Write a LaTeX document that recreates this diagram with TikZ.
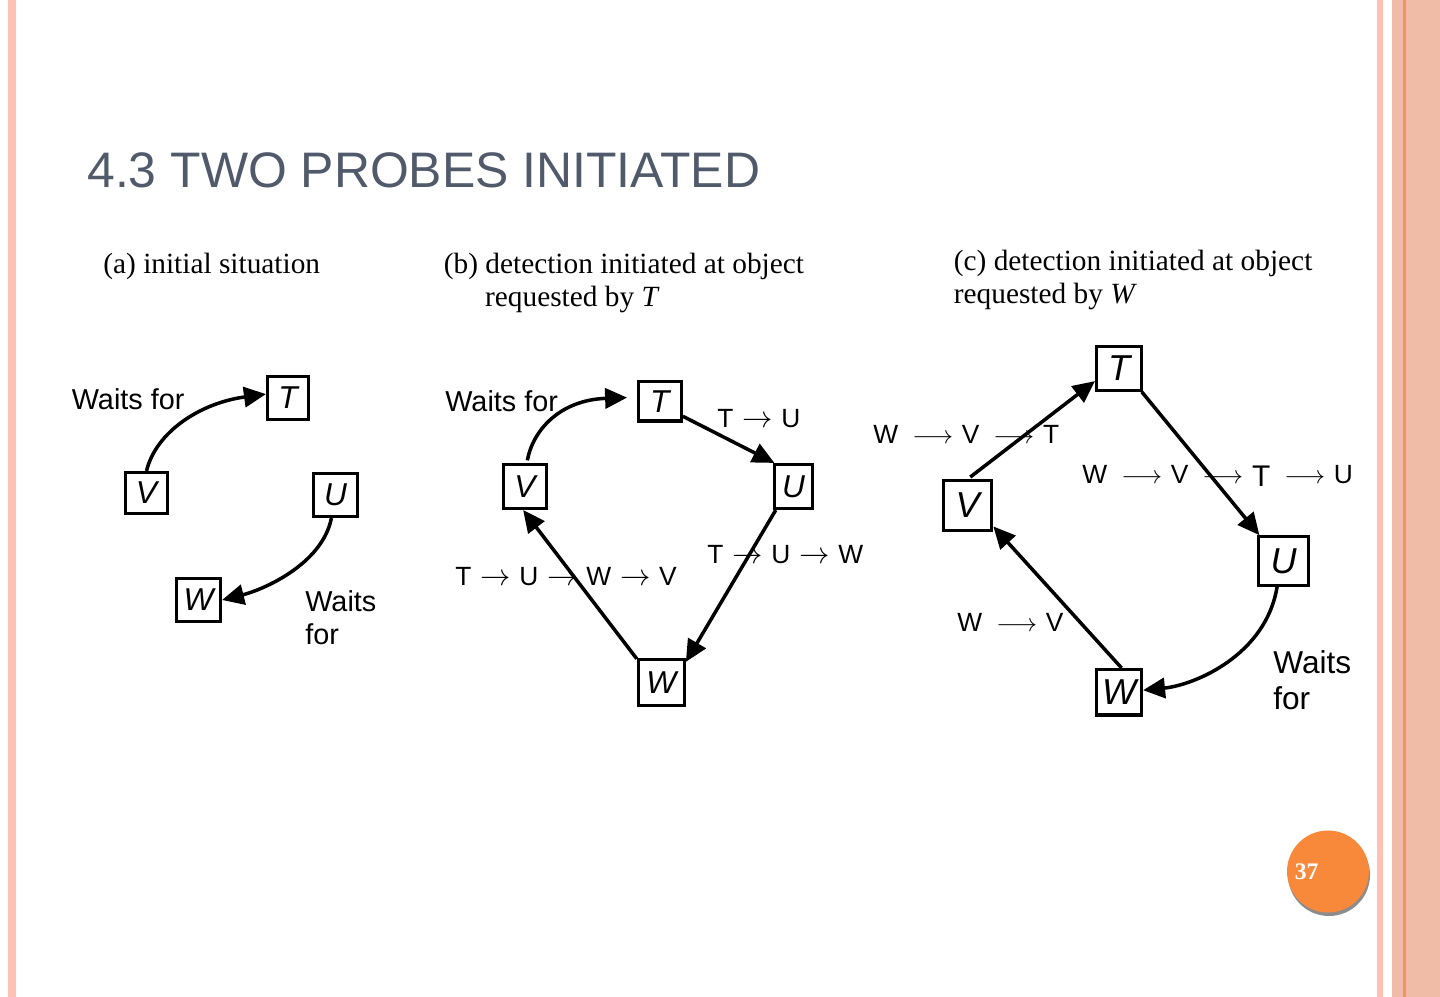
\documentclass[tikz,border=0pt]{standalone}
\usepackage{fontspec}
\setmainfont{Liberation Serif}
\setsansfont{Liberation Sans}
\usepackage{tikz}
\usetikzlibrary{arrows.meta,positioning,calc}
\definecolor{Blush}{HTML}{FFC2B2}
\definecolor{Salmon}{HTML}{F1BCA7}
\definecolor{Ember}{HTML}{EE9663}
\definecolor{Slate}{HTML}{515A6B}
\definecolor{Tangerine}{HTML}{F8893B}
\newcommand{\probeto}{\hspace{5pt}{\fontsize{19}{19}\selectfont$\rightarrow$}\hspace{5pt}}
\newcommand{\longprobeto}{\hspace{8pt}{\fontsize{15.5}{15.5}\selectfont$\longrightarrow$}\hspace{5pt}}
\tikzset{
    % object boxes
    objbox/.style={
        rectangle,
        draw=black,
        fill=white,
        line width=1.8pt,
        minimum width=0.84cm,
        minimum height=0.84cm,
        inner sep=0pt,
        font=\sffamily\itshape\fontsize{18}{18}\selectfont
    },
    bigobjbox/.style={
        objbox,
        font=\sffamily\itshape\fontsize{20.5}{20.5}\selectfont
    },
    waitarrow/.style={
        -{Triangle[length=12.5pt,width=11.5pt]},
        line width=2pt
    },
    probelabel/.style={
        anchor=west,
        inner sep=0pt,
        font=\sffamily\fontsize{15}{17}\selectfont
    },
    waitlabel/.style={
        inner sep=0pt,
        align=left,
        font=\sffamily\fontsize{16.4}{18.9}\selectfont
    },
    panelcap/.style={
        inner sep=0pt,
        align=left,
        anchor=north west,
        font=\fontsize{16.7}{19}\selectfont
    }
}
\begin{document}
\begin{tikzpicture}[x=0.02cm, y=-0.02cm]
    \useasboundingbox (0,0) rectangle (1440,997);
    \fill[white] (0,0) rectangle (1440,997);
    % page frame
    \fill[Blush] (8,0) rectangle (16,997);
    \fill[Blush] (1377,0) rectangle (1383,997);
    \fill[Salmon] (1392,0) rectangle (1440,997);
    \fill[Ember] (1403,0) rectangle (1405.5,997);

    \node[anchor=base west, inner sep=0pt, text=Slate,
          font=\sffamily\fontsize{28.4}{30}\selectfont] (title) at (87,187.5) {4.3 TWO PROBES INITIATED};

    \node[panelcap, anchor=base west] (capA) at (103,273) {(a) initial situation};
    \node[panelcap] (capB) at (443.5,252.9) {(b) detection initiated at object\\\hspace*{23.5pt}requested by \textit{T}};
    \node[panelcap] (capC) at (953.5,249.8) {(c) detection initiated at object\\requested by \textit{W}};

    % (a) initial situation
    \node[objbox, minimum width=0.82cm, minimum height=0.86cm] (aT) at (288,398) {T};
    \node[objbox, minimum width=0.84cm, minimum height=0.82cm] (aV) at (146.5,493) {V};
    \node[objbox, minimum width=0.88cm, minimum height=0.86cm] (aU) at (335.5,495) {U};
    \node[objbox, minimum width=0.88cm, minimum height=0.86cm] (aW) at (198.5,600) {W};
    \node[waitlabel, anchor=west] (waitA) at (71.5,399) {Waits for};
    \node[waitlabel, anchor=north west] (waitA2) at (305,590) {Waits\\for};
    \draw[waitarrow] (aV.north) .. controls (156,432) and (200,403) .. (aT.170);
    \draw[waitarrow] (aU.-100) .. controls (322,565) and (262,590) .. (aW.east);

    % (b) probe from T
    \node[objbox, minimum width=0.86cm, minimum height=0.79cm] (bT) at (659.8,401.3) {T};
    \node[objbox, minimum width=0.86cm, minimum height=0.88cm] (bV) at (524.8,486.5) {V};
    \node[objbox, minimum width=0.76cm, minimum height=0.88cm] (bU) at (793.5,486.5) {U};
    \node[objbox, minimum width=0.92cm, minimum height=0.92cm] (bW) at (661.3,682.5) {W};
    \node[waitlabel, anchor=west] (waitB) at (445,401) {Waits for};
    \draw[waitarrow, shorten <=1.5pt, shorten >=5.5pt] (bV.85) .. controls (533,430) and (560,400) .. (bT.170);
    \draw[waitarrow] (bT.-33) -- (bU.129);
    \draw[waitarrow] (bU.233) -- (bW.40);
    \draw[waitarrow] (bW.136) -- (bV.266);
    \node[probelabel] (pbTU) at (717,419) {T\probeto U};
    \node[probelabel] (pbTUW) at (707,554.5) {T\probeto U\probeto W};
    \node[probelabel] (pbTUWV) at (455,576.7) {T\probeto U\probeto W\probeto V};

    % (c) probe from W
    \node[bigobjbox, minimum width=0.9cm, minimum height=0.88cm] (cT) at (1119,368.3) {T};
    \node[bigobjbox, minimum width=0.97cm, minimum height=0.99cm] (cV) at (967.5,505.5) {V};
    \node[bigobjbox, minimum width=1.0cm, minimum height=0.97cm] (cU) at (1283.5,561) {U};
    \node[bigobjbox, minimum width=0.9cm, minimum height=0.91cm] (cW) at (1119,692.3) {W};
    \node[waitlabel, anchor=north west, font=\sffamily\fontsize{18}{20.8}\selectfont] (waitC) at (1273,650) {Waits\\for};
    \draw[waitarrow, shorten <=2pt] (cV.north) -- (cT.208);
    \draw[waitarrow] (cT.-46) -- (cU.133);
    \draw[waitarrow] (cW.84) -- (cV.-39);
    \draw[waitarrow] (cU.-104) .. controls (1266,655) and (1195,685) .. (cW.5);
    \node[probelabel] (pcWVT) at (873,434) {W\longprobeto V\longprobeto T};
    \node[probelabel] (pcWVTU) at (1082,476) {W\longprobeto V\longprobeto \raisebox{-1.5pt}{\fontsize{17}{17}\selectfont T}\longprobeto U};
    \node[probelabel] (pcWV) at (957,622) {W\longprobeto V};

    % page number
    \fill[black!45] (1329,875) circle[radius=0.82cm];
    \node[circle, fill=Tangerine, inner sep=0pt, minimum size=1.64cm] (badge) at (1328,871.5) {};
    \node[anchor=west, inner sep=0pt, text=white,
          font=\bfseries\fontsize{13.5}{13.5}\selectfont] (pagenum) at (1294.5,872) {37};
\end{tikzpicture}
\end{document}
